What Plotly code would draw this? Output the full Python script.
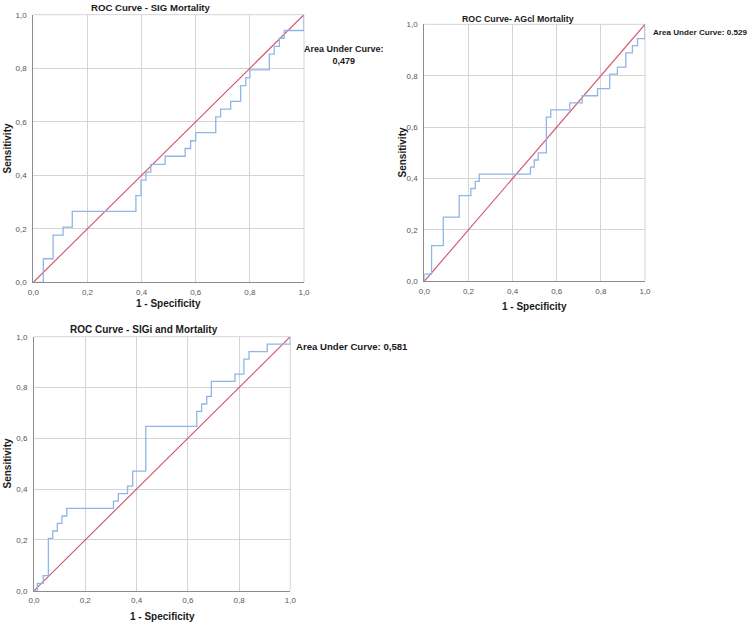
import plotly.graph_objects as go

W, H = 748, 626

# ---- data ----
tick_vals = [0.0, 0.2, 0.4, 0.6, 0.8, 1.0]
tick_text = ["0,0", "0,2", "0,4", "0,6", "0,8", "1,0"]
diag = [0.0, 1.0]

titles = ["ROC Curve - SIG Mortality", "ROC Curve- AGcl Mortality", "ROC Curve - SIGi and Mortality"]
auc_text = ["Area Under Curve:<br>0,479", "Area Under Curve: 0.529", "Area Under Curve: 0,581"]

roc1_fpr = [0, 0.037, 0.073, 0.110, 0.144, 0.379, 0.398, 0.416, 0.434, 0.487, 0.561, 0.581,
            0.600, 0.674, 0.692, 0.729, 0.766, 0.785, 0.800, 0.872, 0.890, 0.909, 0.927, 1.0]
roc1_tpr = [0, 0.088, 0.176, 0.206, 0.265, 0.324, 0.382, 0.412, 0.441, 0.471, 0.500, 0.529,
            0.559, 0.618, 0.647, 0.676, 0.735, 0.765, 0.794, 0.853, 0.882, 0.912, 0.941, 1.0]

roc2_fpr = [0, 0, 0.033, 0.086, 0.158, 0.211, 0.231, 0.249, 0.481, 0.498, 0.516, 0.553,
            0.573, 0.659, 0.715, 0.785, 0.840, 0.875, 0.913, 0.943, 0.966, 1.0]
roc2_tpr = [0, 0.028, 0.139, 0.250, 0.333, 0.361, 0.389, 0.417, 0.444, 0.472, 0.500, 0.639,
            0.667, 0.694, 0.722, 0.750, 0.806, 0.833, 0.889, 0.917, 0.944, 1.0]

roc3_fpr = [0, 0.013, 0.036, 0.056, 0.073, 0.091, 0.109, 0.128, 0.310, 0.329, 0.365, 0.385,
            0.436, 0.635, 0.654, 0.674, 0.692, 0.784, 0.819, 0.839, 0.910, 1.0]
roc3_tpr = [0, 0.029, 0.059, 0.206, 0.235, 0.265, 0.294, 0.324, 0.353, 0.382, 0.412, 0.471,
            0.647, 0.706, 0.735, 0.765, 0.824, 0.853, 0.912, 0.941, 0.971, 1.0]

# ---- layout geometry (pixels) ----
panels = [
    dict(x0=33.3, x1=304.0, y0=14.7, y1=282.3),
    dict(x0=424.3, x1=645.0, y0=24.3, y1=281.3),
    dict(x0=34.0, x1=290.3, y0=336.7, y1=590.7),
]

def px(x):
    return x / W

def py(y):
    return 1 - y / H

BLUE = "#8fb6e6"
RED = "#d2506a"
FONT = "Arial, Liberation Sans, sans-serif"

fig = go.Figure()
curves = [(roc1_fpr, roc1_tpr), (roc2_fpr, roc2_tpr), (roc3_fpr, roc3_tpr)]
for i, (fx, ty) in enumerate(curves):
    sfx = "" if i == 0 else str(i + 1)
    fig.add_trace(go.Scatter(x=diag, y=diag, mode="lines", line=dict(color=RED, width=1.1),
                             xaxis="x" + sfx, yaxis="y" + sfx, showlegend=False, hoverinfo="skip"))
    fig.add_trace(go.Scatter(x=fx, y=ty, mode="lines", line=dict(color=BLUE, width=1.3, shape="hv"),
                             xaxis="x" + sfx, yaxis="y" + sfx, showlegend=False))

axis_common = dict(range=[0, 1], tickvals=tick_vals, ticktext=tick_text, showgrid=True,
                   gridcolor="#d4d4d4", gridwidth=1, zeroline=False, showline=True,
                   linecolor="#8c8c8c", linewidth=1, ticks="", automargin=False,
                   tickfont=dict(family=FONT, size=8, color="#555555"), fixedrange=True)

layout = dict(width=W, height=H, margin=dict(l=0, r=0, t=0, b=0, pad=0, autoexpand=False),
              autosize=False, plot_bgcolor="white", paper_bgcolor="white", showlegend=False)
for i, p in enumerate(panels):
    sfx = "" if i == 0 else str(i + 1)
    layout["xaxis" + sfx] = dict(axis_common, domain=[px(p["x0"]), px(p["x1"])],
                                 anchor="y" + sfx, ticklabelstandoff=2)
    layout["yaxis" + sfx] = dict(axis_common, domain=[py(p["y1"]), py(p["y0"])],
                                 anchor="x" + sfx, ticklabelstandoff=4)
fig.update_layout(**layout)

# light frame on top/right edges
for p in panels:
    fig.add_shape(type="line", xref="paper", yref="paper", x0=px(p["x0"]), x1=px(p["x1"]),
                  y0=py(p["y0"]), y1=py(p["y0"]), line=dict(color="#d4d4d4", width=1), layer="below")
    fig.add_shape(type="line", xref="paper", yref="paper", x0=px(p["x1"]), x1=px(p["x1"]),
                  y0=py(p["y0"]), y1=py(p["y1"]), line=dict(color="#d4d4d4", width=1), layer="below")

ann = []
title_pos = [(151, 7.5), (518, 18.5), (143.5, 329)]
title_size = [9.6, 8.8, 10]
for t, (x, y), s in zip(titles, title_pos, title_size):
    ann.append(dict(text="<b>%s</b>" % t, x=px(x), y=py(y), xref="paper", yref="paper",
                    showarrow=False, xanchor="center", yanchor="middle",
                    font=dict(family=FONT, size=s, color="#1a1a1a")))

ann.append(dict(text="<b>%s</b>" % auc_text[0], x=px(344), y=py(55.5), xref="paper", yref="paper",
                showarrow=False, xanchor="center", yanchor="middle", align="center",
                font=dict(family=FONT, size=9, color="#1a1a1a")))
ann.append(dict(text="<b>%s</b>" % auc_text[1], x=px(650.5), y=py(32.5), xref="paper", yref="paper",
                showarrow=False, xanchor="left", yanchor="middle",
                font=dict(family=FONT, size=8.1, color="#1a1a1a")))
ann.append(dict(text="<b>%s</b>" % auc_text[2], x=px(293.5), y=py(346), xref="paper", yref="paper",
                showarrow=False, xanchor="left", yanchor="middle",
                font=dict(family=FONT, size=9.6, color="#1a1a1a")))

sens_pos = [(7, 148.5), (401.5, 153), (7, 463.5)]
for x, y in sens_pos:
    ann.append(dict(text="<b>Sensitivity</b>", x=px(x), y=py(y), xref="paper", yref="paper",
                    showarrow=False, xanchor="center", yanchor="middle", textangle=-90,
                    font=dict(family=FONT, size=10, color="#1a1a1a")))

spec_pos = [(168.5, 303), (534.5, 306.5), (162, 616.5)]
for x, y in spec_pos:
    ann.append(dict(text="<b>1 - Specificity</b>", x=px(x), y=py(y), xref="paper", yref="paper",
                    showarrow=False, xanchor="center", yanchor="middle",
                    font=dict(family=FONT, size=10, color="#1a1a1a")))

fig.update_layout(annotations=ann)
# remove the default page margin so the 748x626 figure fills the window exactly
fig.write_html("out.html", config={"displayModeBar": False},
               post_script="document.body.style.margin='0';")
